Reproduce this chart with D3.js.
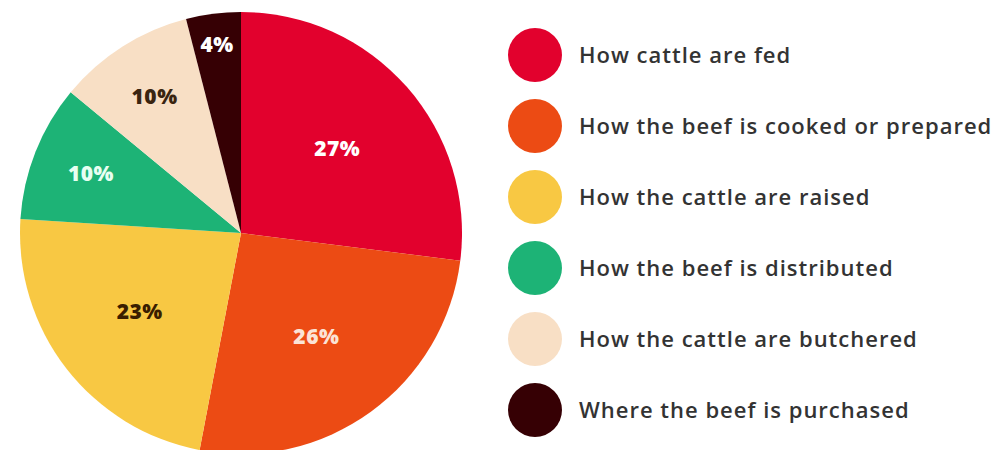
<!DOCTYPE html>
<html>
<head>
<meta charset="utf-8">
<script src="https://cdn.jsdelivr.net/npm/d3@7"></script>
<style>
  body { margin: 0; background: #fff; }
  svg { display: block; }
</style>
</head>
<body>
<svg id="chart"></svg>
<script>
// ---- data ----
const categories = [
  "How cattle are fed",
  "How the beef is cooked or prepared",
  "How the cattle are raised",
  "How the beef is distributed",
  "How the cattle are butchered",
  "Where the beef is purchased"
];
const values = [27, 26, 23, 10, 10, 4];
const colors = ["#e2012d", "#ec4b14", "#f8c843", "#1db376", "#f8dfc5", "#360004"];
const labelColors = ["#ffffff", "#fbe3d6", "#3a1e00", "#e8fff2", "#3a2410", "#ffffff"];

const width = 995;
const height = 450;

const svg = d3.select("#chart")
  .attr("width", width)
  .attr("height", height);

// ---- pie ----
const radius = 221;
const cx = 241, cy = 233;

const pie = d3.pie().sort(null).value(d => d.value);
const arc = d3.arc().innerRadius(0).outerRadius(radius);

// small slices get labels pushed further out
const labelPos = d3.scaleLinear().domain([4, 10, 23]).range([0.86, 0.73, 0.58]).clamp(true);

const data = categories.map((c, i) => ({ name: c, value: values[i], color: colors[i], lc: labelColors[i] }));
const arcs = pie(data);

const g = svg.append("g").attr("transform", `translate(${cx},${cy})`);

g.selectAll("path")
  .data(arcs)
  .join("path")
  .attr("d", arc)
  .attr("fill", d => d.data.color);

g.selectAll("text")
  .data(arcs)
  .join("text")
  .attr("transform", d => {
    const r = radius * labelPos(d.data.value);
    const a = (d.startAngle + d.endAngle) / 2;
    return `translate(${Math.sin(a) * r},${-Math.cos(a) * r})`;
  })
  .attr("text-anchor", "middle")
  .attr("dy", "0.36em")
  .attr("font-family", "'Open Sans', sans-serif")
  .attr("font-weight", 800)
  .attr("font-size", 21)
  .attr("letter-spacing", 0.5)
  .attr("fill", d => d.data.lc)
  .text(d => d.data.value + "%");

// ---- legend ----
const ly = d3.scalePoint().domain(categories).range([55, 410]);

const legend = svg.append("g").selectAll("g")
  .data(data)
  .join("g")
  .attr("transform", d => `translate(535,${ly(d.name)})`);

legend.append("circle")
  .attr("r", 27)
  .attr("fill", d => d.color);

legend.append("text")
  .attr("x", 44)
  .attr("dy", "0.35em")
  .attr("font-family", "'Open Sans', sans-serif")
  .attr("font-weight", 600)
  .attr("font-size", 22)
  .attr("letter-spacing", 1)
  .attr("fill", "#333")
  .text(d => d.name);
</script>
</body>
</html>
